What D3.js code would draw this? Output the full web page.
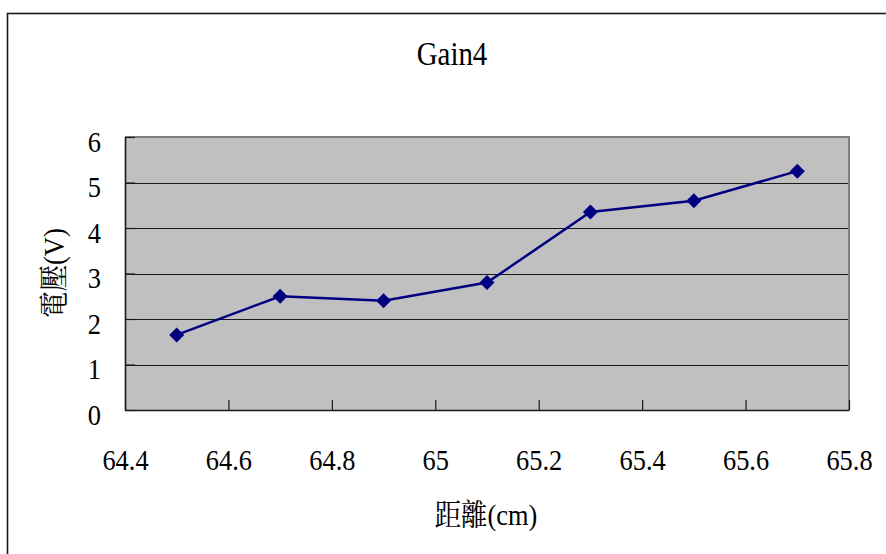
<!DOCTYPE html>
<html>
<head>
<meta charset="utf-8">
<script src="https://cdn.jsdelivr.net/npm/d3@7"></script>
<style>
  body { margin: 0; padding: 0; background: #fff; }
  #chart { display: block; font-family: "Times New Roman", "Liberation Serif", Tinos, "Noto Serif CJK TC", serif; }
  #chart text { font-family: "Times New Roman", "Liberation Serif", Tinos, "Noto Serif CJK TC", serif !important; fill: #000; }
</style>
</head>
<body>
<svg id="chart" width="886" height="554" font-family="Times New Roman, Liberation Serif, serif"></svg>
<script>
// Measured distance (cm) vs. voltage (V)
const distances = [64.5, 64.7, 64.9, 65.1, 65.3, 65.5, 65.7];
const voltages  = [1.65, 2.5, 2.4, 2.8, 4.35, 4.6, 5.25];
const xTicks = [64.4, 64.6, 64.8, 65, 65.2, 65.4, 65.6, 65.8];
const yTicks = [0, 1, 2, 3, 4, 5, 6];
const chartTitle = "Gain4";
const xTitle = "距離(cm)";
const yTitle = "電壓(V)";

const svg = d3.select("#chart");
const plot = { left: 125, top: 137, right: 849, bottom: 410 };
const squeeze = 0.88; // narrow glyph width of the label face

const x = d3.scaleLinear().domain([64.4, 65.8]).range([plot.left, plot.right]);
const y = d3.scaleLinear().domain([0, 6]).range([plot.bottom, plot.top]);

function label(sel, size) {
  return sel.attr("font-size", size).attr("fill", "#000");
}

// outer chart frame (runs off the right/bottom edges)
svg.append("rect")
  .attr("x", 7.5).attr("y", 13.5)
  .attr("width", 1000).attr("height", 1000)
  .attr("fill", "none").attr("stroke", "#1a1a1a").attr("stroke-width", 1.6);

// title
label(svg.append("text")
  .attr("transform", "translate(452,65) scale(0.85,1)")
  .attr("text-anchor", "middle"), 34)
  .text(chartTitle);

// plot background
svg.append("rect")
  .attr("x", plot.left).attr("y", plot.top)
  .attr("width", plot.right - plot.left).attr("height", plot.bottom - plot.top)
  .attr("fill", "#c0c0c0");

// horizontal gridlines
svg.append("g")
  .selectAll("line")
  .data(yTicks.filter(v => v > 0 && v < 6))
  .join("line")
  .attr("x1", plot.left).attr("x2", plot.right)
  .attr("y1", d => Math.round(y(d)) + 0.5).attr("y2", d => Math.round(y(d)) + 0.5)
  .attr("stroke", "#1a1a1a").attr("stroke-width", 1);

// grey top/right plot border
svg.append("path")
  .attr("d", `M${plot.left},${plot.top}H${plot.right}V${plot.bottom}`)
  .attr("fill", "none").attr("stroke", "#808080").attr("stroke-width", 2);

// x axis (ticks pointing inward)
const xAxis = svg.append("g")
  .attr("transform", `translate(0,${plot.bottom})`)
  .call(d3.axisBottom(x).tickValues(xTicks).tickSizeInner(-10).tickSizeOuter(0)
    .tickFormat(d => String(d)));
xAxis.attr("font-family", null).attr("font-size", null);
xAxis.select(".domain").attr("stroke", "#1a1a1a").attr("stroke-width", 1.6);
xAxis.selectAll(".tick line").attr("stroke", "#1a1a1a").attr("stroke-width", 1.2);
label(xAxis.selectAll(".tick text")
  .attr("y", 60).attr("dy", 0)
  .attr("transform", `scale(${squeeze},1)`), 30);

// y axis (ticks pointing inward)
const yAxis = svg.append("g")
  .attr("transform", `translate(${plot.left},0)`)
  .call(d3.axisLeft(y).tickValues(yTicks).tickSizeInner(-10).tickSizeOuter(0)
    .tickFormat(d => String(d)));
yAxis.attr("font-family", null).attr("font-size", null);
yAxis.select(".domain").attr("stroke", "#1a1a1a").attr("stroke-width", 1.6);
yAxis.selectAll(".tick line").attr("stroke", "#1a1a1a").attr("stroke-width", 1.2);
label(yAxis.selectAll(".tick text")
  .attr("x", -24 / squeeze).attr("dy", 0).attr("y", 14)
  .attr("transform", `scale(${squeeze},1)`), 30);

// axis titles
label(svg.append("text")
  .attr("transform", `translate(486,525) scale(${squeeze},1)`)
  .attr("text-anchor", "middle"), 30)
  .text(xTitle);

label(svg.append("text")
  .attr("transform", `translate(64,273) rotate(-90) scale(${squeeze},1)`)
  .attr("text-anchor", "middle"), 30)
  .text(yTitle);

// data line
const pts = distances.map((d, i) => [d, voltages[i]]);
svg.append("path")
  .datum(pts)
  .attr("fill", "none")
  .attr("stroke", "#000080")
  .attr("stroke-width", 2.5)
  .attr("d", d3.line().x(d => x(d[0])).y(d => y(d[1])));

// diamond markers
svg.append("g")
  .selectAll("path")
  .data(pts)
  .join("path")
  .attr("transform", d => `translate(${x(d[0])},${y(d[1])})`)
  .attr("d", "M0,-7.5L7.5,0L0,7.5L-7.5,0Z")
  .attr("fill", "#000080");
</script>
</body>
</html>
